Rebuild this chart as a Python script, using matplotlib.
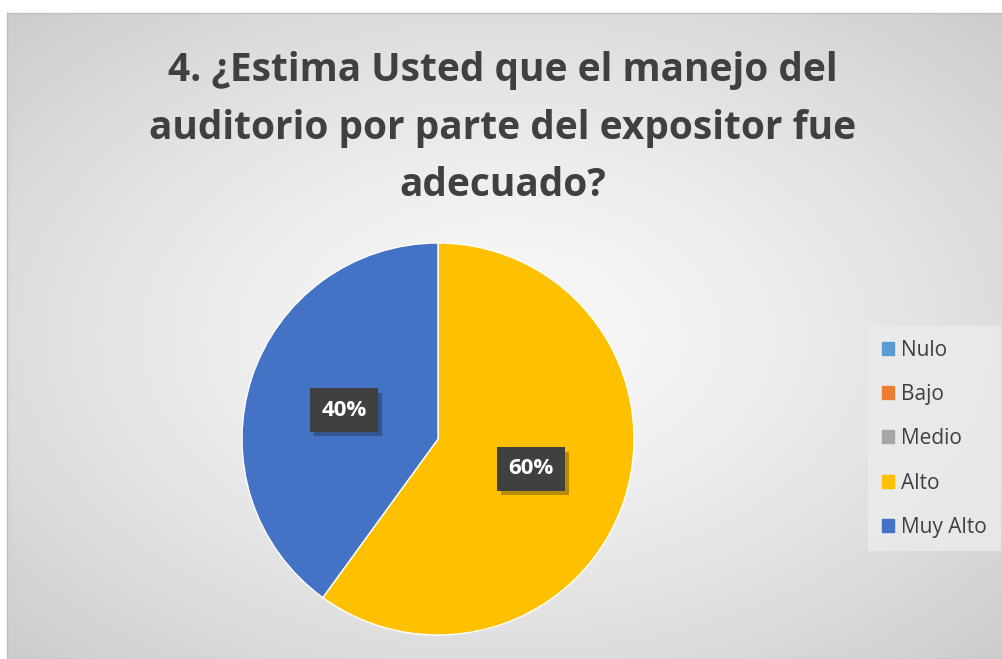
import matplotlib
matplotlib.use("Agg")
import matplotlib.pyplot as plt
import matplotlib.patheffects as pe
import numpy as np

plt.rcParams["font.family"] = ["Open Sans", "DejaVu Sans"]

# データ
categorias = ["Nulo", "Bajo", "Medio", "Alto", "Muy Alto"]
valores = [0, 0, 0, 3, 2]
colores = ["#5b9bd5", "#ed7d31", "#a5a5a5", "#ffc000", "#4472c4"]
titulo = "4. ¿Estima Usted que el manejo del\nauditorio por parte del expositor fue\nadecuado?"

W, H = 1003, 659
fig = plt.figure(figsize=(W / 100, H / 100), dpi=100)
fig.patch.set_facecolor("white")

# 背景（放射グラデーション）
bg = fig.add_axes([7 / W, 0, 1 - 7 / W, 1 - 13 / H])
yy, xx = np.mgrid[0:1:300j, 0:1:450j]
r = np.sqrt(((xx - 0.5) / 0.75) ** 2 + ((yy - 0.5) / 0.75) ** 2)
r = np.clip(r, 0, 1)
g = 0.975 - 0.19 * r ** 1.4
bg.imshow(np.dstack([g, g, g]), extent=[0, 1, 0, 1], aspect="auto", origin="lower")
bg.set_xticks([])
bg.set_yticks([])
for s in bg.spines.values():
    s.set_color("#bfbfbf")
    s.set_linewidth(1)

fig.text(503 / W, 1 - 128 / H, titulo, ha="center", va="center",
         fontsize=28, fontweight="bold", color="#404040", linespacing=1.62)

# パイ
cx, cy, rad = 438, 439, 196
ax = fig.add_axes([(cx - rad) / W, 1 - (cy + rad) / H, 2 * rad / W, 2 * rad / H])
ax.set_facecolor("none")
wedges, _ = ax.pie(valores, colors=colores, startangle=90, counterclock=False,
                   radius=1.0, wedgeprops=dict(edgecolor="white", linewidth=1))
ax.set_xlim(-1, 1)
ax.set_ylim(-1, 1)
ax.set_aspect("auto")

total = sum(valores)
label_pos = {3: (531, 469), 4: (344, 410)}
for i, (px, py) in label_pos.items():
    pct = f"{round(valores[i] / total * 100)}%"
    fig.text(px / W, 1 - py / H, pct, ha="center", va="center",
             fontsize=16, fontweight="bold", color="white",
             bbox=dict(boxstyle="square,pad=0.5", facecolor="#404040",
                       edgecolor="none",
                       path_effects=[pe.SimplePatchShadow(offset=(3, -3), alpha=0.3),
                                     pe.Normal()]))

# 凡例
handles = [plt.Rectangle((0, 0), 1, 1, color=c) for c in colores]
leg = fig.legend(handles, categorias, loc="upper left",
                 bbox_to_anchor=(868 / W, 1 - 326 / H),
                 frameon=True, fontsize=15, handlelength=0.6, handleheight=0.6,
                 labelspacing=1.12, handletextpad=0.35, borderpad=0.65,
                 borderaxespad=0, fancybox=False, labelcolor="#404040")
leg.get_frame().set_facecolor("#ececec")
leg.get_frame().set_edgecolor("none")
leg.get_frame().set_alpha(0.8)

fig.savefig("out.png", dpi=100)
